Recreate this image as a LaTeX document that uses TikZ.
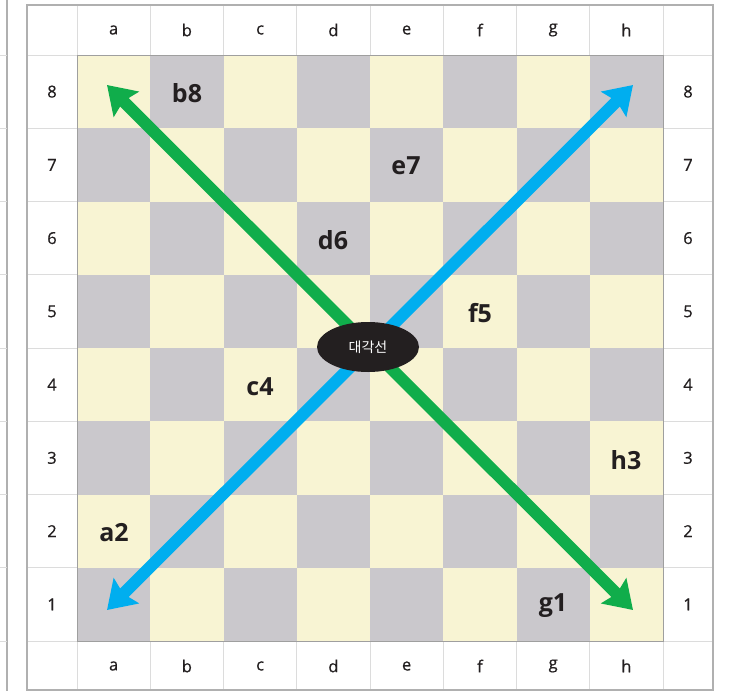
\documentclass[tikz,border=0pt]{standalone}
\usepackage{fontspec}
\setmainfont{Open Sans}
\newfontfamily\krfont{Noto Sans CJK KR}
\usetikzlibrary{arrows.meta,shapes.geometric}
\definecolor{lite}{HTML}{F8F4D3}
\definecolor{dark}{HTML}{CAC8CC}
\definecolor{ink}{HTML}{231F20}
\definecolor{grn}{HTML}{10AD4B}
\definecolor{blu}{HTML}{00AEEF}
\definecolor{gridc}{HTML}{DCDCDC}
\definecolor{framec}{HTML}{B0B0B0}
\tikzset{
  gridline/.style={draw=gridc, line width=1pt},
  frameline/.style={draw=framec, line width=1.5pt},
  coordlbl/.style={text=ink, font=\addfontfeatures{FakeBold=0.6}\fontsize{16.5}{18}\selectfont, inner sep=0pt},
  sqlbl/.style={text=ink, font=\bfseries\fontsize{25}{28}\selectfont, inner sep=0pt},
  diagarrow/.style={line width=12pt, {Stealth[length=27pt,width=35pt,inset=4pt]}-{Stealth[length=27pt,width=35pt,inset=4pt]}},
}
\begin{document}
\begin{tikzpicture}[x=1pt,y=-1pt]
\useasboundingbox (0,0) rectangle (731,691);
\fill[white] (0,0) rectangle (731,691);
% left sliver of neighbouring table
\draw[frameline] (7,0) -- (7,691);
\foreach \k in {0,...,8} \draw[gridline] (0,{55+73.25*\k}) -- (7,{55+73.25*\k});
% grid lines of frame
\foreach \k in {0,...,8} {
  \draw[gridline] ({77+73.25*\k},5) -- ({77+73.25*\k},690);
  \draw[gridline] (27,{55+73.25*\k}) -- (713,{55+73.25*\k});
}
% board squares
\foreach \i in {0,...,7} {
  \foreach \j in {0,...,7} {
    \pgfmathtruncatemacro\parity{mod(\i+\j,2)}
    \ifnum\parity=0 \def\sqc{lite}\else\def\sqc{dark}\fi
    \fill[\sqc] ({77+73.25*\i},{55+73.25*\j}) rectangle ({77+73.25*(\i+1)},{55+73.25*(\j+1)});
  }
}
\draw[draw=gray!75, line width=0.8pt] (77,55) rectangle (663,641);
\draw[frameline] (27,5) rectangle (713,690);
% coordinate labels
\foreach \f [count=\i from 0] in {a,b,c,d,e,f,g,h} {
  \node[coordlbl] (top-\f) at ({77+73.25*(\i+0.5)},30) {\f};
  \node[coordlbl] (bot-\f) at ({77+73.25*(\i+0.5)},666) {\f};
}
\foreach \r [count=\j from 0] in {8,7,6,5,4,3,2,1} {
  \node[coordlbl] (left-\r) at (52,{55+73.25*(\j+0.5)}) {\r};
  \node[coordlbl] (right-\r) at (688,{55+73.25*(\j+0.5)}) {\r};
}
% square labels
\node[sqlbl] (b8) at (187,93) {b8};
\node[sqlbl] (e7) at (406,166) {e7};
\node[sqlbl] (d6) at (333,240) {d6};
\node[sqlbl] (f5) at (480,313) {f5};
\node[sqlbl] (c4) at (260,387) {c4};
\node[sqlbl] (h3) at (626,460) {h3};
\node[sqlbl] (a2) at (114,533) {a2};
\node[sqlbl] (g1) at (553,606) {g1};
% arrows
\coordinate (ga) at (107,85);
\coordinate (gb) at (633,610);
\coordinate (ba) at (107,610);
\coordinate (bb) at (633,85);
\draw[blu, diagarrow] (ba) -- (bb);
\draw[grn, diagarrow] (ga) -- (gb);
% centre ellipse
\node[ellipse, fill=ink, minimum width=102pt, minimum height=50pt, inner sep=0pt, text=white, font=\krfont\fontsize{14}{16}\selectfont] (diag) at (368,347) {대각선};
\end{tikzpicture}
\end{document}
